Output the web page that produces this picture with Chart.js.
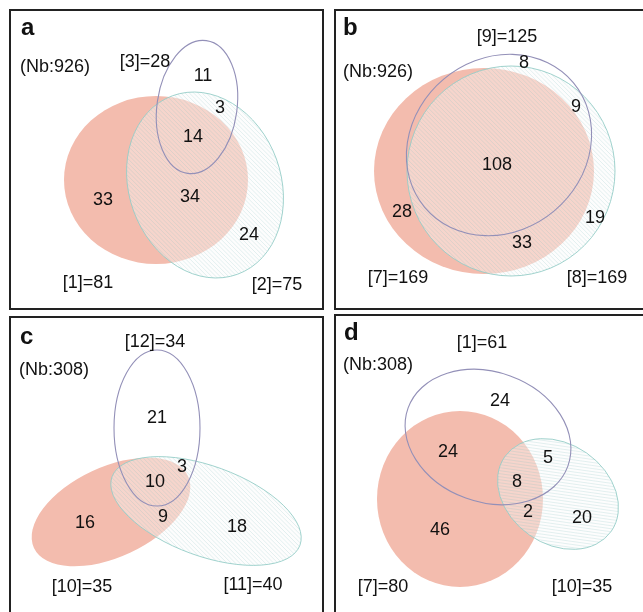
<!DOCTYPE html>
<html>
<head>
<meta charset="utf-8">
<script src="https://cdn.jsdelivr.net/npm/chart.js@4.4.1/dist/chart.umd.min.js"></script>
<style>
  html, body { margin: 0; padding: 0; background: #fff; width: 643px; height: 612px; overflow: hidden; }
  .panel { position: absolute; border: 2px solid #222; box-sizing: border-box; overflow: hidden; background: #fff; }
  canvas { display: block; }
</style>
</head>
<body>
<div class="panel" style="left:9px;top:9px;width:315px;height:301px"><canvas id="chartA"></canvas></div>
<div class="panel" style="left:334px;top:9px;width:320px;height:301px"><canvas id="chartB"></canvas></div>
<div class="panel" style="left:9px;top:316px;width:315px;height:310px"><canvas id="chartC"></canvas></div>
<div class="panel" style="left:334px;top:314px;width:320px;height:310px"><canvas id="chartD"></canvas></div>
<script>
// data
const panelLetters = ['a', 'b', 'c', 'd'];
const panelTotals = [926, 926, 308, 308];

const setNamesA = ['[1]', '[2]', '[3]'];
const setSizesA = [81, 75, 28];
const regionCountsA = [33, 34, 24, 11, 3, 14];

const setNamesB = ['[7]', '[8]', '[9]'];
const setSizesB = [169, 169, 125];
const regionCountsB = [28, 108, 19, 8, 9, 33];

const setNamesC = ['[10]', '[11]', '[12]'];
const setSizesC = [35, 40, 34];
const regionCountsC = [16, 9, 18, 21, 3, 10];

const setNamesD = ['[7]', '[10]', '[1]'];
const setSizesD = [80, 35, 61];
const regionCountsD = [46, 2, 20, 24, 5, 8, 24];

// layout (panel units, y grows downwards): ellipse shapes and where the texts sit
const layoutA = {
  ellipses: [
    { cx: 145, cy: 169, rx: 92, ry: 84, rot: 0 },
    { cx: 194, cy: 174, rx: 76, ry: 95, rot: -20 },
    { cx: 186, cy: 96, rx: 40, ry: 67, rot: 8 }
  ],
  countPos: [[92, 189], [179, 186], [238, 224], [192, 65], [209, 97], [182, 126]],
  namePos: [[77, 272], [266, 274], [134, 51]],
  letterPos: [10, 17],
  totalPos: [44, 56],
  hatch: 45
};
const layoutB = {
  ellipses: [
    { cx: 148, cy: 160, rx: 110, ry: 103, rot: 0 },
    { cx: 175, cy: 160, rx: 104, ry: 105, rot: 0 },
    { cx: 163, cy: 134, rx: 97, ry: 86, rot: -40 }
  ],
  countPos: [[66, 201], [161, 154], [259, 207], [188, 52], [240, 96], [186, 232]],
  namePos: [[62, 267], [261, 267], [171, 26]],
  letterPos: [7, 17],
  totalPos: [42, 61],
  hatch: 45
};
const layoutC = {
  ellipses: [
    { cx: 100, cy: 194, rx: 85, ry: 45, rot: -25 },
    { cx: 195, cy: 193, rx: 100, ry: 45, rot: 20 },
    { cx: 146, cy: 110, rx: 43, ry: 78, rot: 0 }
  ],
  countPos: [[74, 205], [152, 199], [226, 209], [146, 100], [171, 149], [144, 164]],
  namePos: [[71, 269], [242, 267], [144, 24]],
  letterPos: [9, 19],
  totalPos: [43, 52],
  hatch: 45
};
const layoutD = {
  ellipses: [
    { cx: 124, cy: 183, rx: 83, ry: 88, rot: 0 },
    { cx: 222, cy: 178, rx: 65, ry: 50, rot: 35 },
    { cx: 152, cy: 121, rx: 85, ry: 65, rot: 20 }
  ],
  countPos: [[104, 214], [192, 196], [246, 202], [164, 85], [212, 142], [181, 166], [112, 136]],
  namePos: [[47, 271], [246, 271], [146, 27]],
  letterPos: [8, 17],
  totalPos: [42, 49],
  hatch: 8
};

const FONT = '"Liberation Sans", Arial, Helvetica, sans-serif';
const PINK = '#f3bcae';

function ellipsePath(ctx, xs, ys, e) {
  const px = xs.getPixelForValue(e.cx);
  const py = ys.getPixelForValue(e.cy);
  const rx = Math.abs(xs.getPixelForValue(e.cx + e.rx) - px);
  const ry = Math.abs(ys.getPixelForValue(e.cy + e.ry) - py);
  ctx.beginPath();
  ctx.ellipse(px, py, rx, ry, e.rot * Math.PI / 180, 0, Math.PI * 2);
  return { px, py, r: Math.max(rx, ry) };
}

function vennPlugin(letter, total, names, sizes, counts, layout) {
  return {
    id: 'venn',
    beforeDatasetsDraw(chart) {
      const ctx = chart.ctx;
      const xs = chart.scales.x, ys = chart.scales.y;
      const [pink, teal, purple] = layout.ellipses;
      ctx.save();
      // first set: solid salmon
      ellipsePath(ctx, xs, ys, pink);
      ctx.fillStyle = PINK;
      ctx.fill();
      // second set: pale wash with fine hatching
      const t = ellipsePath(ctx, xs, ys, teal);
      ctx.fillStyle = 'rgba(250,250,250,0.4)';
      ctx.fill();
      ctx.save();
      ctx.clip();
      ctx.strokeStyle = 'rgba(130,190,190,0.28)';
      ctx.lineWidth = 0.8;
      const a = layout.hatch * Math.PI / 180;
      const dx = Math.cos(a), dy = Math.sin(a);
      const R = t.r + 10;
      for (let k = -R; k <= R; k += 3) {
        const ox = t.px - dy * k, oy = t.py + dx * k;
        ctx.beginPath();
        ctx.moveTo(ox - dx * R, oy - dy * R);
        ctx.lineTo(ox + dx * R, oy + dy * R);
        ctx.stroke();
      }
      ctx.restore();
      ellipsePath(ctx, xs, ys, teal);
      ctx.strokeStyle = 'rgba(150,205,200,0.9)';
      ctx.lineWidth = 1;
      ctx.stroke();
      // third set: outline only
      ellipsePath(ctx, xs, ys, purple);
      ctx.strokeStyle = '#9390b8';
      ctx.lineWidth = 1.1;
      ctx.stroke();
      ctx.restore();
    },
    afterDatasetsDraw(chart) {
      const ctx = chart.ctx;
      const xs = chart.scales.x, ys = chart.scales.y;
      ctx.save();
      ctx.fillStyle = '#111';
      ctx.textBaseline = 'middle';
      ctx.textAlign = 'center';
      ctx.font = '18px ' + FONT;
      const meta = chart.getDatasetMeta(0);
      meta.data.forEach((pt, i) => ctx.fillText(String(counts[i]), pt.x, pt.y));
      names.forEach((n, i) => {
        const p = layout.namePos[i];
        ctx.fillText(n + '=' + sizes[i], xs.getPixelForValue(p[0]), ys.getPixelForValue(p[1]));
      });
      ctx.fillText('(Nb:' + total + ')', xs.getPixelForValue(layout.totalPos[0]), ys.getPixelForValue(layout.totalPos[1]));
      ctx.textAlign = 'left';
      ctx.font = 'bold 24px ' + FONT;
      ctx.fillText(letter, xs.getPixelForValue(layout.letterPos[0]), ys.getPixelForValue(layout.letterPos[1]));
      ctx.restore();
    }
  };
}

function makePanel(canvasId, w, h, letter, total, names, sizes, counts, layout) {
  const canvas = document.getElementById(canvasId);
  canvas.width = w;
  canvas.height = h;
  return new Chart(canvas, {
    type: 'scatter',
    data: {
      datasets: [{
        data: layout.countPos.map(p => ({ x: p[0], y: p[1] })),
        pointRadius: 0,
        pointHoverRadius: 0
      }]
    },
    options: {
      responsive: false,
      animation: false,
      events: [],
      layout: { padding: 0 },
      plugins: { legend: { display: false }, tooltip: { enabled: false } },
      scales: {
        x: { type: 'linear', min: 0, max: w, display: false },
        y: { type: 'linear', min: 0, max: h, reverse: true, display: false }
      }
    },
    plugins: [vennPlugin(letter, total, names, sizes, counts, layout)]
  });
}

makePanel('chartA', 311, 297, panelLetters[0], panelTotals[0], setNamesA, setSizesA, regionCountsA, layoutA);
makePanel('chartB', 316, 297, panelLetters[1], panelTotals[1], setNamesB, setSizesB, regionCountsB, layoutB);
makePanel('chartC', 311, 306, panelLetters[2], panelTotals[2], setNamesC, setSizesC, regionCountsC, layoutC);
makePanel('chartD', 316, 306, panelLetters[3], panelTotals[3], setNamesD, setSizesD, regionCountsD, layoutD);
</script>
</body>
</html>
